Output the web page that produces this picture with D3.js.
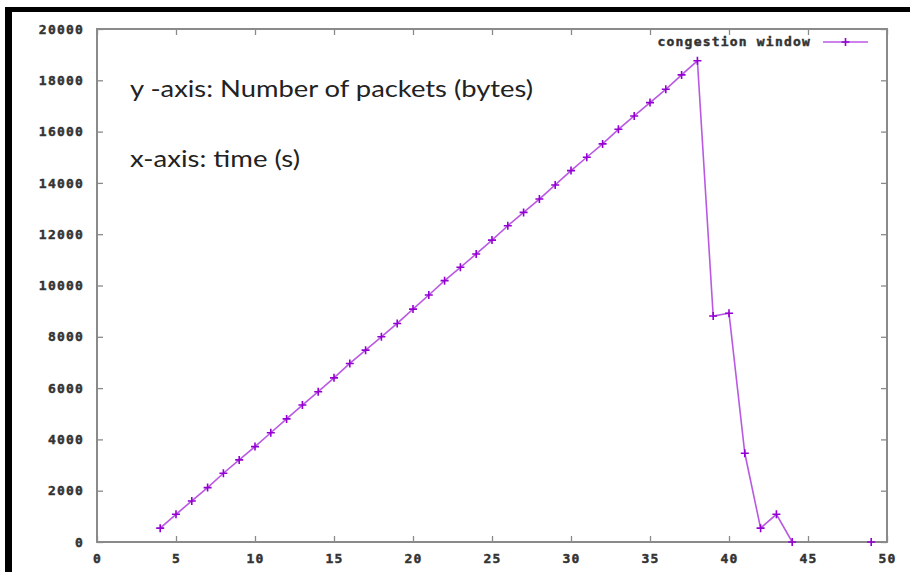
<!DOCTYPE html>
<html>
<head>
<meta charset="utf-8">
<script src="https://cdn.jsdelivr.net/npm/d3@7"></script>
<style>
  html, body { margin: 0; padding: 0; background: #fff; }
  svg { display: block; }
</style>
</head>
<body>
<svg id="chart" width="910" height="572"></svg>
<script>
// ---- data ----
const times = [4,5,6,7,8,9,10,11,12,13,14,15,16,17,18,19,20,21,22,23,24,25,26,27,28,29,30,31,32,33,34,35,36,37,38,39,40,41,42,43,44,45,46,47,48,49];
const cwnd  = [540,1080,1600,2120,2680,3200,3720,4260,4800,5340,5860,6400,6960,7480,8000,8520,9080,9630,10190,10710,11230,11770,12330,12850,13370,13920,14480,15000,15520,16090,16610,17130,17650,18210,18760,8810,8920,3460,540,1080,0,null,null,null,null,0];
const xTicks = [0,5,10,15,20,25,30,35,40,45,50];
const yTicks = [0,2000,4000,6000,8000,10000,12000,14000,16000,18000,20000];
const seriesName = "congestion window";
const noteLines = ["y -axis: Number of packets (bytes)", "x-axis: time (s)"];

// ---- layout ----
const svg = d3.select("#chart");
const L = 97, R = 887, T = 29, B = 542;
const purple = "#9400d3";
const axisGray = "#8a8a8a";
const tickFont = "'DejaVu Sans Mono', 'Liberation Mono', monospace";

// frame of the screenshot (black border left & top)
svg.append("rect").attr("x", 5).attr("y", 7).attr("width", 905).attr("height", 5).attr("fill", "#000");
svg.append("rect").attr("x", 5).attr("y", 7).attr("width", 7).attr("height", 565).attr("fill", "#000");

const x = d3.scaleLinear().domain([0, 50]).range([L, R]);
const y = d3.scaleLinear().domain([0, 20000]).range([B, T]);

function styleText(sel) {
  sel.attr("fill", "#333")
    .attr("stroke", "#333").attr("stroke-width", 0.45)
    .attr("font-family", tickFont)
    .attr("font-weight", "bold")
    .attr("font-size", 13)
    .attr("letter-spacing", "1.2px");
}
function styleAxis(g) {
  g.select(".domain").remove();
  g.selectAll(".tick line").attr("stroke", axisGray).attr("stroke-width", 1.3);
  styleText(g.selectAll(".tick text"));
}

// axes with inward ticks (mirror on top/right)
const gx = svg.append("g").attr("transform", `translate(0,${B})`)
  .call(d3.axisBottom(x).tickValues(xTicks).tickSize(-6).tickPadding(12).tickFormat(d3.format("d")));
styleAxis(gx);
const gy = svg.append("g").attr("transform", `translate(${L},0)`)
  .call(d3.axisLeft(y).tickValues(yTicks).tickSize(-6).tickPadding(13).tickFormat(d3.format("d")));
styleAxis(gy);
const gt = svg.append("g").attr("transform", `translate(0,${T})`)
  .call(d3.axisTop(x).tickValues(xTicks).tickSize(-6).tickFormat(""));
styleAxis(gt);
const gr = svg.append("g").attr("transform", `translate(${R},0)`)
  .call(d3.axisRight(y).tickValues(yTicks).tickSize(-6).tickFormat(""));
styleAxis(gr);

// border
svg.append("rect").attr("x", L).attr("y", T).attr("width", R - L).attr("height", B - T)
  .attr("fill", "none").attr("stroke", axisGray).attr("stroke-width", 2);

// data
const data = times.map((t, i) => ({ t, v: cwnd[i] }));
const line = d3.line().defined(d => d.v != null).x(d => x(d.t)).y(d => y(d.v));
svg.append("path").datum(data).attr("d", line)
  .attr("fill", "none").attr("stroke", purple).attr("stroke-width", 1.6).attr("stroke-opacity", 0.65);

function plus(g, cx, cy) {
  g.append("path").attr("d", `M${cx - 4},${cy}H${cx + 4}M${cx},${cy - 4}V${cy + 4}`)
    .attr("stroke", purple).attr("stroke-width", 1.6).attr("fill", "none");
}
const gm = svg.append("g");
data.filter(d => d.v != null).forEach(d => plus(gm, x(d.t), y(d.v)));

// legend
const lg = svg.append("g");
lg.append("text").attr("x", 811).attr("y", 46).attr("text-anchor", "end")
  .call(styleText).text(seriesName);
lg.append("line").attr("x1", 823).attr("x2", 868).attr("y1", 42).attr("y2", 42)
  .attr("stroke", purple).attr("stroke-width", 1.6).attr("stroke-opacity", 0.65);
plus(lg, 845.5, 42);

// annotations
svg.append("text").attr("x", 130).attr("y", 97).attr("font-family", "Lato, 'Open Sans', sans-serif")
  .attr("font-size", 23).attr("fill", "#222").attr("textLength", 403).attr("lengthAdjust", "spacingAndGlyphs")
  .text(noteLines[0]);
svg.append("text").attr("x", 130).attr("y", 167).attr("font-family", "Lato, 'Open Sans', sans-serif")
  .attr("font-size", 23).attr("fill", "#222").attr("textLength", 170).attr("lengthAdjust", "spacingAndGlyphs")
  .text(noteLines[1]);
</script>
</body>
</html>
